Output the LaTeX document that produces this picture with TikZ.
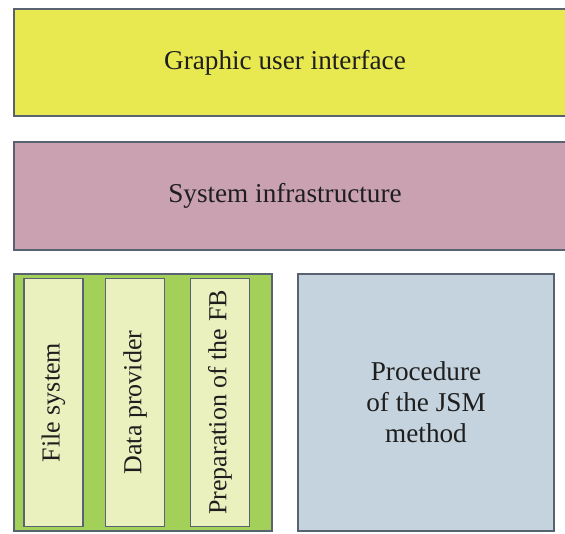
\documentclass[tikz,border=0pt]{standalone}
\usepackage{fontspec}
\setmainfont{Liberation Serif}
\usetikzlibrary{positioning}

\definecolor{guiyellow}{RGB}{232,232,80}
\definecolor{infrapink}{RGB}{201,161,176}
\definecolor{dalgreen}{RGB}{163,208,88}
\definecolor{modcream}{RGB}{234,240,190}
\definecolor{jsmblue}{RGB}{196,211,221}
\definecolor{frame}{RGB}{88,98,112}
\definecolor{ink}{RGB}{30,30,30}

\begin{document}
\begin{tikzpicture}[x=1pt,y=1pt,
    block/.style={draw=frame,line width=1.2pt,inner sep=0pt,text=ink,
        font=\fontsize{27.2}{31}\selectfont,align=center},
    label/.style={text=ink,font=\fontsize{27.2}{31}\selectfont},
    module/.style={block,fill=modcream,minimum width=59pt,minimum height=248pt}]

    \useasboundingbox (0,0) rectangle (565,533);

    % Two full width layers on top
    \node [block,fill=guiyellow,minimum width=554pt,minimum height=107pt]
        (gui) at (291,470.5) {};
    \node at (285,470.5) [label] (guilab) {Graphic user interface};

    \node [block,fill=infrapink,minimum width=554pt,minimum height=108pt]
        (infra) at (291,337) {};
    \node at (285,337) [label] (infralab) {System infrastructure};

    % Green container with the three modules
    \node [block,fill=dalgreen,minimum width=258pt,minimum height=257pt]
        (data) at (143,130.5) {};
    \foreach \x/\name/\lab in {
        53.5/fs/{File system},
        135/dp/{Data provider},
        220/prep/{Preparation of the FB}} {
        \node [module] (\name) at (\x,130.5) {};
        \node [rotate=90,text=ink,font=\fontsize{26}{31}\selectfont] at (\name) {\lab};
    }

    % JSM procedure
    \node [block,fill=jsmblue,minimum width=256pt,minimum height=257pt]
        (jsm) at (426,130.5) {Procedure\\of the JSM\\method};

\end{tikzpicture}
\end{document}
